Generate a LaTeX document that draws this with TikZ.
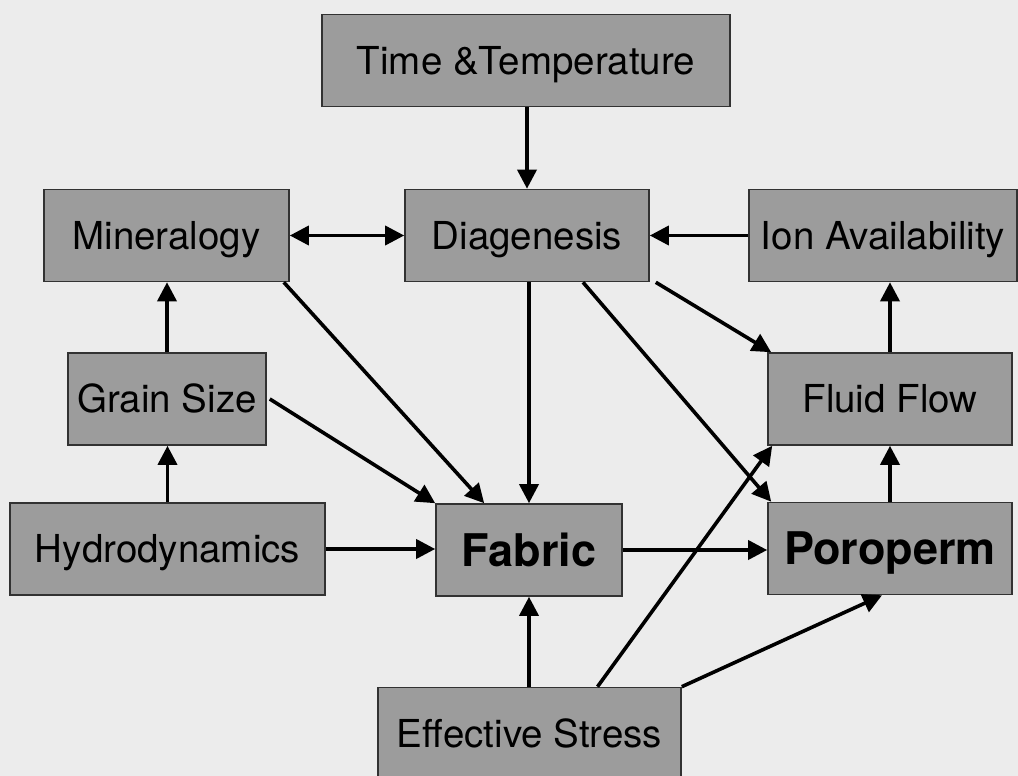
\documentclass[tikz,border=0pt]{standalone}
\usepackage{fontspec}
\setmainfont{TeX Gyre Heros}
\usetikzlibrary{arrows.meta}
\definecolor{boxgray}{RGB}{156,156,156}
\definecolor{edgegray}{RGB}{50,50,50}
\definecolor{paper}{RGB}{236,236,236}
\begin{document}
\begin{tikzpicture}[x=1pt,y=-1pt,
  factor/.style={draw=edgegray, line width=1.6pt, fill=boxgray, minimum height=92pt,
    inner sep=0pt, text height=27.4pt, text depth=0pt,
    font=\fontsize{38.5}{40}\selectfont, text=black},
  keyfactor/.style={factor, text height=32.4pt, font=\fontsize{45}{48}\selectfont\bfseries},
  tip/.style={},
  link/.style={draw=black, line width=3.6pt, -{Triangle[length=19pt,width=19pt]}},
  both/.style={link, {Triangle[length=19pt,width=19pt]}-{Triangle[length=19pt,width=19pt]}}]
\clip (0,0) rectangle (1018,776);
\fill[paper] (0,0) rectangle (1018,776);

% factor boxes
\node[factor, minimum width=408pt] (tt)  at (526,60.5)   {Time \&Temperature};
\node[factor, minimum width=245pt] (min) at (166.5,235.5) {Mineralogy};
\node[factor, minimum width=244pt] (dia) at (527,235.5)   {Diagenesis};
\node[factor, minimum width=268pt] (ion) at (883,235.5)   {Ion Availability};
\node[factor, minimum width=198pt] (gs)  at (167,399)     {Grain Size};
\node[factor, minimum width=244pt] (ff)  at (890,399)     {Fluid Flow};
\node[factor, minimum width=315pt] (hyd) at (167.5,549)   {Hydrodynamics};
\node[keyfactor, minimum width=186pt] (fab) at (529,550)  {Fabric};
\node[keyfactor, minimum width=244pt] (por) at (890,548.5) {Poroperm};
\node[factor, minimum width=303pt] (es)  at (529.5,733.5) {Effective Stress};

% influences
\draw[link] (dia.north |- tt.south) -- (dia.north);
\draw[both] (min.east) -- (dia.west);
\draw[link] (ion.west) -- (dia.east);
\draw[link] (fab.north |- dia.south) -- (fab.north);
\draw[link] ([xshift=-6pt]min.south east) -- ([xshift=49pt]fab.north west);
\draw[link] ([xshift=3pt]gs.east) -- (fab.north west);
\draw[link] (gs.north) -- (gs.north |- min.south);
\draw[link] (hyd.north) -- (hyd.north |- gs.south);
\draw[link] (hyd.east) -- (hyd.east -| fab.west);
\draw[link] (fab.east) -- (fab.east -| por.west);
\draw[link] ([xshift=56pt]dia.south) -- ([xshift=4pt]por.north west);
\draw[link] ([xshift=6pt]dia.south east) -- ([xshift=4pt]ff.north west);
\draw[link] (ff.north) -- (ff.north |- ion.south);
\draw[link] (por.north) -- (ff.south);
\draw[link] (fab.south |- es.north) -- (fab.south);
\draw[link] ([xshift=68pt]es.north) -- ([xshift=5pt]ff.south west);
\draw[link] (es.north east) -- ([xshift=-8pt]por.south);
\end{tikzpicture}
\end{document}
